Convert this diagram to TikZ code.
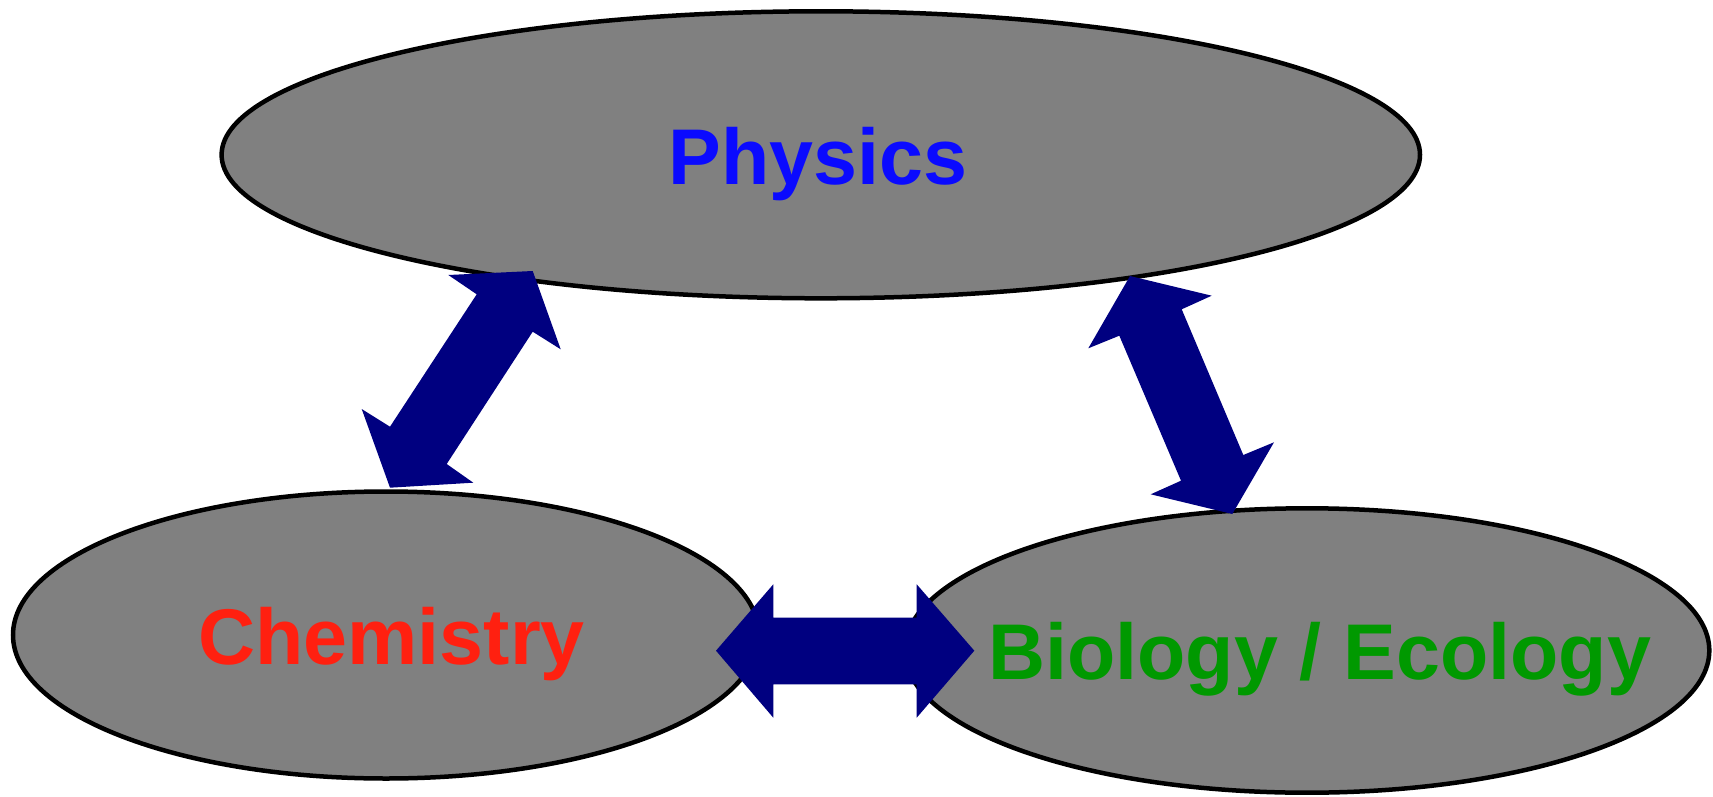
\documentclass[tikz,border=0pt]{standalone}
\usepackage{fontspec}
\setmainfont{Liberation Sans}
\usetikzlibrary{shapes.geometric}
\definecolor{ellgray}{HTML}{808080}
\definecolor{arrnavy}{HTML}{000080}
\definecolor{physblue}{HTML}{0A0AFF}
\definecolor{chemred}{HTML}{FF2010}
\definecolor{biogreen}{HTML}{009900}
\tikzset{
  field/.style={ellipse, draw=black, fill=ellgray, line width=4.5pt, inner sep=0pt},
  lbl/.style={anchor=base, inner sep=0pt, font=\fontsize{79}{85}\selectfont\bfseries},
  blockarrow/.style={fill=arrnavy, draw=none}
}
\begin{document}
\begin{tikzpicture}[x=1pt, y=-1pt]
\useasboundingbox (0,0) rectangle (1713,797);
% fields
\node[field, minimum width=1198.4pt, minimum height=287pt] (phys) at (820.8,154.8) {};
\node[field, minimum width=746pt, minimum height=287pt] (chem) at (386,635) {};
\node[field, minimum width=804.6pt, minimum height=284.4pt] (bio) at (1307,650.5) {};
% labels
\node[lbl, text=physblue] (tphys) at (818,184) {Physics};
\node[lbl, text=chemred] (tchem) at (391.7,664) {Chemistry};
\node[lbl, text=biogreen] (tbio) at (1319.7,679.5) {Biology / Ecology};
% block arrows
\fill[blockarrow] (532.7,271) -- (448.3,275) -- (476.7,294.3) -- (390,426.7) -- (361.7,409)
  -- (390,487.7) -- (473.3,482.7) -- (446.7,464) -- (532.7,331.7) -- (560.7,349.3) -- cycle;
\fill[blockarrow] (1130,276) -- (1211.7,295.7) -- (1181.7,309.3) -- (1243.3,455) -- (1274,442.3)
  -- (1232.3,514) -- (1150.7,494.3) -- (1181,480.7) -- (1119.3,335.7) -- (1088.3,348.3) -- cycle;
\fill[blockarrow] (716,650.7) -- (773.3,584.3) -- (773.3,617.7) -- (916.7,617.7) -- (916.7,584.3)
  -- (974.3,650.7) -- (916.7,717.7) -- (916.7,684.3) -- (773.3,684.3) -- (773.3,717.7) -- cycle;
\end{tikzpicture}
\end{document}
